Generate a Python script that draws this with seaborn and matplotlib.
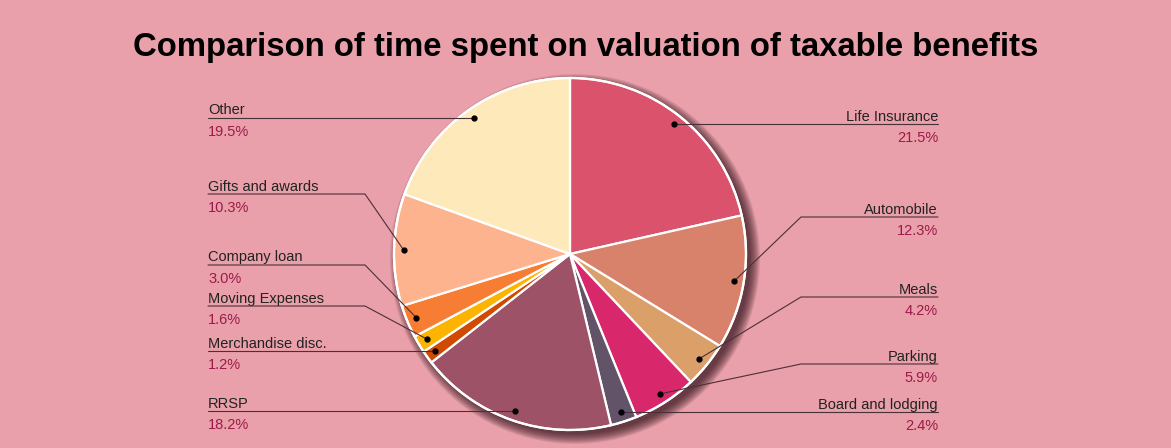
"""
Pie chart: comparison of time spent on valuation of taxable benefits
"""

import numpy as np
import matplotlib
matplotlib.use("Agg")
import matplotlib.pyplot as plt
from matplotlib.patches import Circle
import seaborn as sns

# data (clockwise from 12 o'clock)
categories = ["Life Insurance", "Automobile", "Meals", "Parking", "Board and lodging",
              "RRSP", "Merchandise disc.", "Moving Expenses", "Company loan",
              "Gifts and awards", "Other"]
shares = [21.5, 12.3, 4.2, 5.9, 2.4, 18.2, 1.2, 1.6, 3.0, 10.3, 19.5]
colors = ["#DA526C", "#D9826B", "#DBA06A", "#D9276C", "#625368", "#9E5268",
          "#D04A02", "#FCB400", "#F77C34", "#FDB48E", "#FEE9BB"]
title = "Comparison of time spent on valuation of taxable benefits"

BG = "#E9A0AA"
W, H = 1171, 448
CX, CY, R = 570, H - 254, 176

# label layout: side and y of the leader line (None = straight from dot)
label_side = ["R", "R", "R", "R", "R", "L", "L", "L", "L", "L", "L"]
label_line_y = [None, 217, 297, 364, None, None, None, 306, 265, 194, None]

sns.set_style("white")
plt.rcParams["font.family"] = ["Liberation Sans", "DejaVu Sans"]

fig = plt.figure(figsize=(W / 100, H / 100), dpi=100, facecolor=BG)
ax = fig.add_axes([0, 0, 1, 1])
ax.set_facecolor(BG)

# soft drop shadow
for i in range(12):
    ax.add_patch(Circle((CX + 5, CY - 5), R + 9 - i * 0.9, color="#301018",
                        alpha=0.09, lw=0, zorder=1))

wedges, _ = ax.pie(shares, colors=colors, startangle=90, counterclock=False,
                   center=(CX, CY), radius=R, normalize=True,
                   wedgeprops={"edgecolor": "white", "linewidth": 1.6, "zorder": 2})
ax.add_patch(Circle((CX, CY), R, fill=False, ec="white", lw=1.6, zorder=3))
ax.set_xlim(0, W)
ax.set_ylim(0, H)
ax.set_aspect("equal")
ax.axis("off")

LEFT_X, RIGHT_X = 208, 938
for w, name, val, side, ly in zip(wedges, categories, shares, label_side, label_line_y):
    mid = np.deg2rad((w.theta1 + w.theta2) / 2)
    dx, dy = CX + 0.945 * R * np.cos(mid), CY + 0.945 * R * np.sin(mid)
    ax.plot(dx, dy, "o", color="black", ms=3.5, zorder=5)
    if ly is None:
        y = dy
        pts_x = [LEFT_X if side == "L" else RIGHT_X, dx]
        pts_y = [y, y]
    else:
        y = H - ly
        elbow = 365 if side == "L" else 801
        pts_x = [LEFT_X if side == "L" else RIGHT_X, elbow, dx]
        pts_y = [y, y, dy]
    ax.plot(pts_x, pts_y, color="#4a3038", lw=0.8, zorder=4)
    tx = LEFT_X if side == "L" else RIGHT_X
    ha = "left" if side == "L" else "right"
    ax.text(tx, y + 3.5, name, ha=ha, va="baseline", fontsize=10.5, color="#222222")
    ax.text(tx, y - 18, f"{val:.1f}%", ha=ha, va="baseline", fontsize=10.5,
            color="#9C1A4A")

ax.text(586, H - 47, title, ha="center", va="center", fontsize=23.7,
        fontweight="bold", color="black")

fig.savefig("out.png", dpi=100, facecolor=BG)
plt.close(fig)
